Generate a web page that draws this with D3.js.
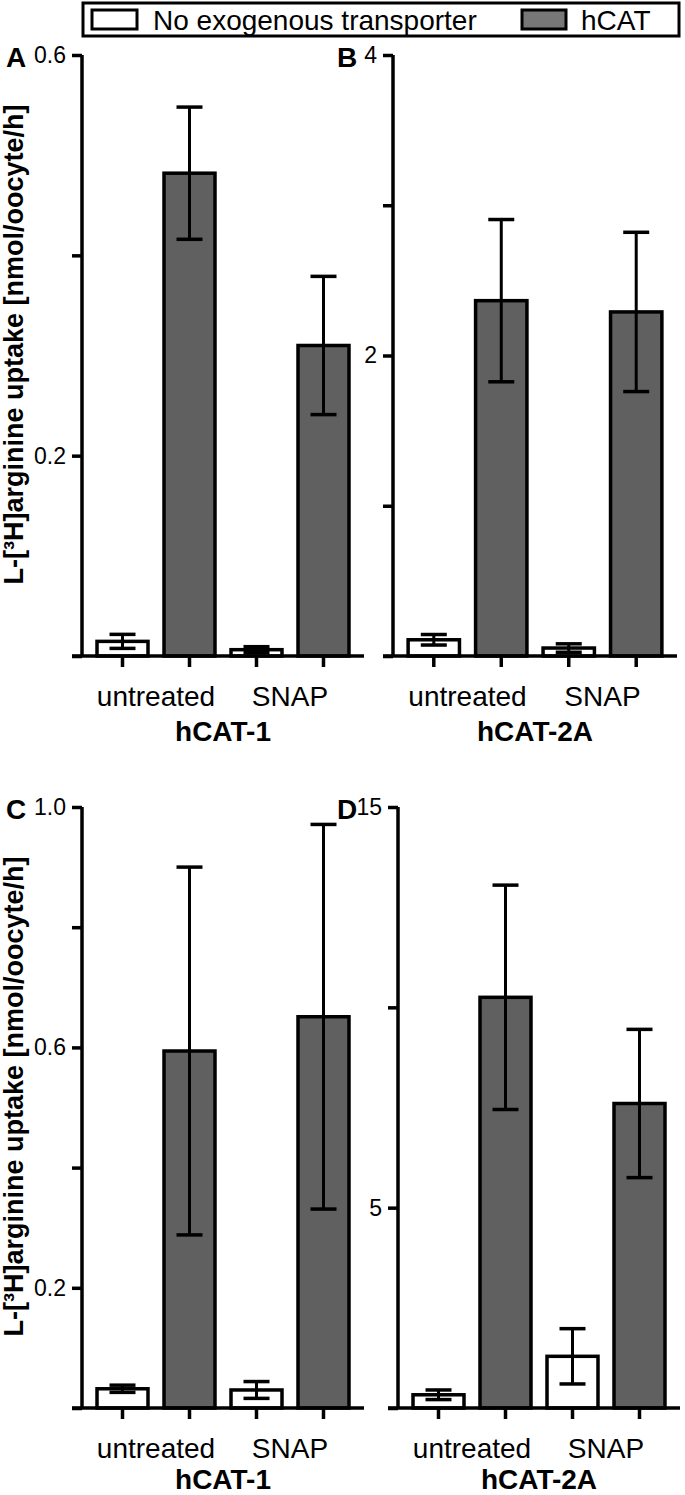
<!DOCTYPE html>
<html><head><meta charset="utf-8">
<script src="https://cdn.jsdelivr.net/npm/d3@7"></script>
<style>
html,body{margin:0;padding:0;background:#fff;}
svg{display:block;}
text{font-family:"Liberation Sans",Arial,Helvetica,sans-serif;fill:#000;}
</style></head>
<body>
<script>
// ---------------- data ----------------
const panelLetters = ["A","B","C","D"];
const groupLabels = ["hCAT-1","hCAT-2A","hCAT-1","hCAT-2A"];
const categories = ["untreated","SNAP"];
const seriesNames = ["No exogenous transporter","hCAT"];
const yMax = [0.6, 4, 1.0, 15];
const yTicks = [[0,0.2,0.4,0.6],[0,1,2,3,4],[0,0.2,0.4,0.6,0.8,1.0],[0,5,10,15]];
const yTickLabels = [["","0.2","","0.6"],["","","2","","4"],["","0.2","","0.6","","1.0"],["","5","","15"]];
// means and error (SD) per panel: [untreated, SNAP]
const noneMean = [[0.0146,0.0063],[0.108,0.053],[0.032,0.030],[0.33,1.29]];
const noneErr  = [[0.007,0.003],[0.035,0.028],[0.006,0.014],[0.12,0.69]];
const hcatMean = [[0.482,0.310],[2.365,2.29],[0.594,0.651],[10.25,7.6]];
const hcatErr  = [[0.066,0.069],[0.54,0.53],[0.306,0.32],[2.8,1.85]];
const yTitle = "L-[³H]arginine uptake [nmol/oocyte/h]";

// ---------------- layout ----------------
const W = 685, H = 1495;
const layout = [
  {x0:82,  x1:364, top:55,  base:656, gl:85},
  {x0:393, x1:677, top:55,  base:656, gl:85},
  {x0:82,  x1:364, top:807, base:1408, gl:81},
  {x0:398, x1:680, top:807, base:1408, gl:81}
];
const GRAY = "#606060";

const svg = d3.select("body").append("svg").attr("width",W).attr("height",H);

// legend
const lg = svg.append("g");
lg.append("rect").attr("x",83).attr("y",3).attr("width",596).attr("height",33)
  .attr("fill","#fff").attr("stroke","#000").attr("stroke-width",3);
lg.append("rect").attr("x",92).attr("y",10).attr("width",45).attr("height",19)
  .attr("fill","#fff").attr("stroke","#000").attr("stroke-width",3);
lg.append("text").attr("x",153).attr("y",29.5).attr("font-size",28).text(seriesNames[0]);
lg.append("rect").attr("x",522).attr("y",10).attr("width",44).attr("height",19)
  .attr("fill","#777").attr("stroke","#000").attr("stroke-width",3);
lg.append("text").attr("x",581).attr("y",29.5).attr("font-size",28).text(seriesNames[1]);

// y titles
[ [layout[0].top, layout[0].base], [layout[2].top, layout[2].base] ].forEach(([t,b])=>{
  const cy = (t+b)/2 - 11;
  svg.append("text").attr("transform",`translate(23,${cy}) rotate(-90)`)
    .attr("text-anchor","middle").attr("font-size",27).attr("font-weight","bold").text(yTitle);
});

layout.forEach((L,pi)=>{
  const g = svg.append("g");
  const y = d3.scaleLinear().domain([0,yMax[pi]]).range([L.base,L.top]);
  const x = d3.scaleBand().domain(d3.range(4)).range([L.x0,L.x1]).paddingInner(0.239).paddingOuter(0.224);

  const bars = [];
  categories.forEach((c,ci)=>{
    bars.push({i:ci*2,   m:noneMean[pi][ci], e:noneErr[pi][ci], fill:"#fff"});
    bars.push({i:ci*2+1, m:hcatMean[pi][ci], e:hcatErr[pi][ci], fill:GRAY});
  });

  g.selectAll("rect.bar").data(bars).join("rect").attr("class","bar")
    .attr("x",d=>x(d.i)).attr("width",x.bandwidth())
    .attr("y",d=>y(d.m)).attr("height",d=>y(0)-y(d.m))
    .attr("fill",d=>d.fill).attr("stroke","#000").attr("stroke-width",3.5);

  const cap = 13;
  bars.forEach(d=>{
    const cx = x(d.i)+x.bandwidth()/2;
    const lo = Math.max(0,d.m-d.e), hi = d.m+d.e;
    g.append("line").attr("x1",cx).attr("x2",cx).attr("y1",y(lo)).attr("y2",y(hi))
      .attr("stroke","#000").attr("stroke-width",3);
    [lo,hi].forEach(v=>{
      g.append("line").attr("x1",cx-cap).attr("x2",cx+cap).attr("y1",y(v)).attr("y2",y(v))
        .attr("stroke","#000").attr("stroke-width",3.5);
    });
  });

  const ya = d3.axisLeft(y).tickValues(yTicks[pi]).tickSize(10).tickPadding(6)
    .tickFormat((d,i)=>yTickLabels[pi][i]);
  const yg = g.append("g").attr("transform",`translate(${L.x0},0)`).call(ya);
  yg.select(".domain").attr("stroke","#000").attr("stroke-width",3.5)
    .attr("d",`M0,${L.top}V${L.base}`);
  yg.selectAll(".tick line").attr("stroke","#000").attr("stroke-width",3.5);
  yg.selectAll(".tick text").attr("font-size",23).attr("font-family",null);

  const xa = d3.axisBottom(x).tickSize(11).tickFormat("");
  const xg = g.append("g").attr("transform",`translate(0,${L.base})`).call(xa);
  xg.select(".domain").attr("stroke","#000").attr("stroke-width",3.5)
    .attr("d",`M${L.x0-10},0H${L.x1}`);
  xg.selectAll(".tick line").attr("stroke","#000").attr("stroke-width",3.5);

  categories.forEach((c,ci)=>{
    const cx = (x(ci*2)+x(ci*2+1)+x.bandwidth())/2;
    g.append("text").attr("x",cx).attr("y",L.base+50).attr("text-anchor","middle")
      .attr("font-size",28).text(c);
  });
  const gx = (x(0)+x(3)+x.bandwidth())/2;
  g.append("text").attr("x",gx).attr("y",L.base+L.gl).attr("text-anchor","middle")
    .attr("font-size",28).attr("font-weight","bold").text(groupLabels[pi]);

  g.append("text").attr("x",pi%2===0?6:337).attr("y",L.top+12)
    .attr("font-size",28).attr("font-weight","bold").text(panelLetters[pi]);
});
</script>
</body></html>
